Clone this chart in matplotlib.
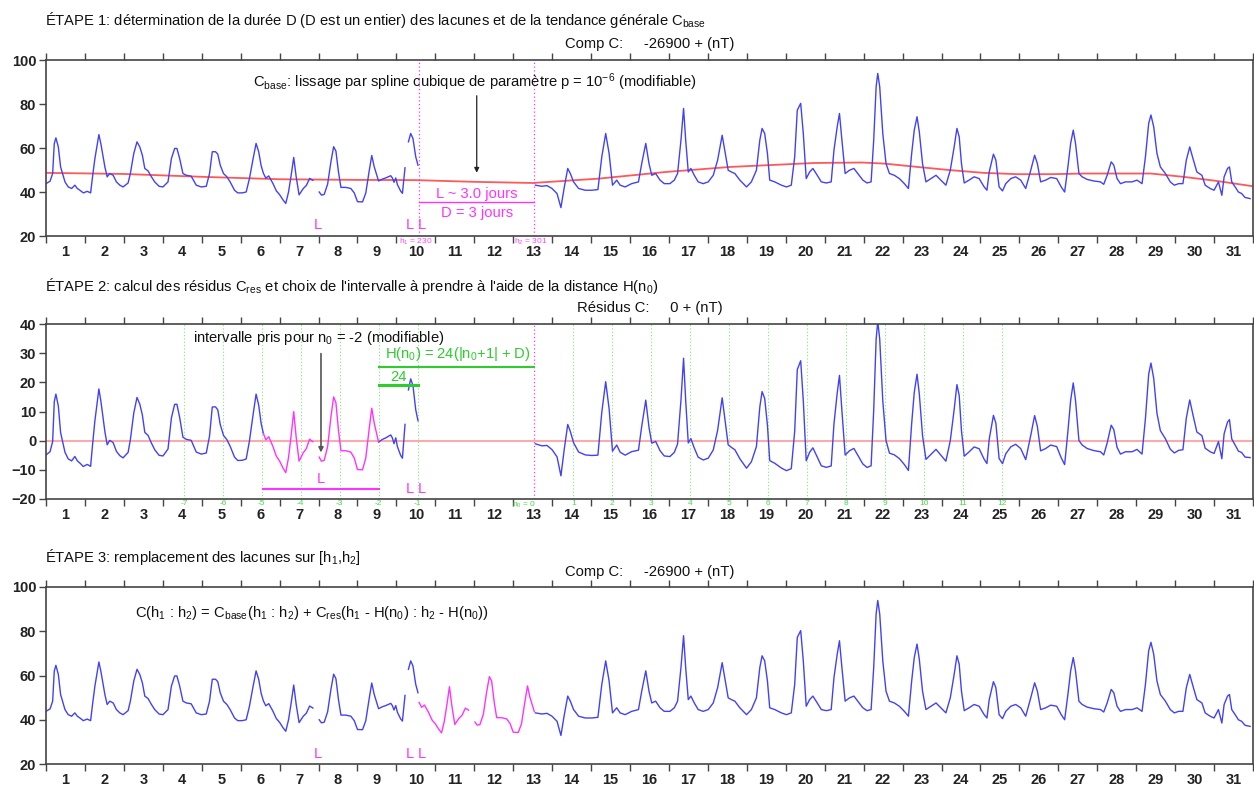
import numpy as np
import matplotlib
matplotlib.use("Agg")
import matplotlib.pyplot as plt

plt.rcParams['font.family'] = ['Liberation Sans', 'DejaVu Sans']
plt.rcParams['mathtext.fontset'] = 'custom'
plt.rcParams['mathtext.rm'] = 'Liberation Sans'
plt.rcParams['mathtext.it'] = 'Liberation Sans'
plt.rcParams['mathtext.bf'] = 'Liberation Sans:bold'
plt.rcParams['mathtext.default'] = 'regular'

# ---------------- data ----------------
days = list(range(1, 32))

# hourly component C (nT, offset -26900), read at knot hours; None = gap (lacune)
hours = [0, 2.5, 4.1, 5.1, 6.1, 7.6, 9, 11.7, 13.7, 15.8, 17.8, 19.3, 20.9, 23,
         25.4, 27.5, 28.7, 30.1, 32.6, 33.8, 36.3, 37.7, 39.3, 41.4, 43.4, 45.5, 47.5,
         50.6, 52, 54.1, 56.1, 57.8, 59.4, 60.9, 62.9, 65, 67, 69.7,
         72.1, 75.2, 77.3, 79.3, 80.7, 82.4, 84.4, 86.5, 89.5, 92.6, 95.7,
         98.8, 100.8, 102.5, 104.5, 105.9, 107.4, 109.4, 111.5, 113.5, 116.2, 118.2,
         121, 123.4, 125.4, 127.5, 129.5, 131.1, 132.6, 134, 135.5, 137.3, 139.8, 142, 144,
         146, 147.8, 149.5, 151, 152.7, 154.2, 156, 158.5, 160.5, 162.5, 164.5, 166.5,
         168.4, 169.8, 171.5, 173.6, 175.6, 177.3, 178.7, 180.3, 181.8, 184.8, 187.9, 190, 192,
         195.1, 197.1, 199.2, 200.8, 202.3, 205, 207.4, 209.4, 212.5, 213.5, 214.5, 215.6,
         216.6, 218.6, 219.7, 221.3, 222.3, 223.4, 224.8, 226.2, 227.9, 229.3, 265,
         301.7, 305.7, 308.8, 311.9, 315, 317.4, 319.5, 321.6, 323.2, 325.2, 328.3, 332.4,
         336.5, 340.2, 342.6, 345, 347.1, 349.2, 351.8, 353.9, 357, 361, 365.2, 367.2, 369.7,
         371.7, 373.4, 375.8, 378.5, 381.1, 384.6, 387.3, 389.3, 391.4, 393, 394.3, 395.9,
         397.5, 399.6, 402, 405.1, 408.2, 411.3, 414, 416.8, 418.4, 420.5, 422.5, 424.6,
         427.7, 431.8, 434.8, 437.9, 440, 441.4, 443, 444.7, 446.1, 449.2, 453.3, 456.4,
         459.4, 461.5, 463.1, 465.2, 466.8, 468.6, 470.7, 472.7, 475.4,
         477.9, 481, 484, 485.7, 487.7, 489.1, 490.6, 492.6, 495.3, 498, 500.4, 503.5, 506.1,
         508.6, 510.2, 511.7, 512.7, 513.9, 515.8, 517.8, 519.9, 522.9, 526, 529.1, 531.6,
         533.6, 535.2, 536.9, 538.3, 540.3, 542.4, 545.5, 548.6, 551.6, 554.7, 557.4, 559.8,
         561.5, 562.9, 564.3, 566, 569, 572.1, 575.2, 578.3, 580, 581.4, 584, 585.5, 587.5,
         589.6, 591.6, 594.7, 597.7, 600.8, 603.9, 607, 609.4, 611.1, 613.1, 616.2, 619.3,
         623, 625.8, 627.9, 629.9, 631.6, 633.2, 634.6, 636.7, 638.7, 641.8, 645.9, 650, 652,
         654.1, 656.6, 658.2, 660.2, 662.3, 665.4, 669.5, 672.5, 675.6, 677.7, 679.7, 681.1,
         682.8, 684.8, 686.9, 690, 693, 695.5, 698.2, 700.8, 702.9, 705, 707, 709.4, 712.5,
         714.5, 717.6, 720, 722.7, 724.8, 726.2, 728.3, 729.5, 730.9, 733, 735, 737, 739.1, 742.2]
comp = [43.8, 44.9, 48.4, 62, 64.6, 60.5, 51.4, 44.6, 42.3, 41.6, 43.1, 41.6, 40.8, 39.6,
        40.3, 39.6, 47, 55, 66.1, 62, 51.4, 46.9, 48.4, 47.6, 44.6, 43.1, 42.3,
        44.1, 48.4, 57.5, 62.8, 60.5, 56.7, 50.7, 49.6, 46.9, 44.6, 42.6,
        42.3, 44.6, 55.2, 59.8, 59.8, 55.2, 48.4, 47.6, 47.2, 43.1, 42.3,
        42.6, 48.4, 58.3, 58.3, 57.2, 52.2, 48.4, 46.9, 44.6, 40.8, 39.6,
        39.6, 40, 46.1, 54.5, 62.1, 58.3, 52, 48.5, 46.3, 47.3, 44, 40.5, 38.8,
        36.5, 34.8, 40, 47, 55.7, 47, 38.7, 41.5, 43, 46.2, 45.3, None,
        40, 38.6, 38.9, 43.6, 53.6, 60.6, 58.6, 49, 42.1, 42.1, 41.6, 39.6, 35.6,
        35.5, 39.5, 49.5, 56.6, 51.5, 45, 45.9, 46.4, 47.4, 46.4, 44.4, 46.4,
        43.4, 40.4, 39.4, 51, None, 62.8, 66.6, 64.3, 56, 52.2, None,
        43.1, 42.6, 42.9, 41.6, 39.3, 32.9, 42.3, 50.7, 48.4, 44.6, 41.6, 40.8,
        40.8, 41.1, 56, 66.6, 57.5, 43.1, 45.4, 43.1, 42.3, 43.8, 44.6, 52.9, 62.1,
        52.9, 47.6, 48.4, 45.4, 43.8, 43.8, 45.4, 48.4, 63.6, 78, 63.6, 49.1,
        50.7, 47.6, 44.6, 43.8, 44.6, 47.6, 54.5, 65.8, 59, 49.9, 49.1, 48.4,
        45.4, 42.3, 44.6, 49.9, 63.6, 68.9, 66.6, 57.5, 45.4, 44.6, 43.1, 42.3,
        43.1, 56, 77.2, 80.3, 66.6, 46.1, 49.1, 50.7, 47.6,
        44.6, 44.1, 44.6, 59, 69.6, 75.7, 63.6, 48.4, 49.9, 50.7, 48.4, 45.4, 44.1,
        44.6, 63.6, 87.9, 93.9, 87.9, 66.6, 52.9, 48.4, 47.6, 46.1, 43.8, 41.6,
        57.5, 68.1, 74.2, 67.4, 52.9, 44.6, 46.1, 47.6, 45.4, 43.1, 49.9, 60.5,
        68.9, 65.1, 52.9, 44.1, 45.4, 46.9, 46.1, 42.3, 40.8, 49.1, 57.2, 54.5, 42.3,
        40.5, 43.8, 46.1, 46.9, 45.4, 41.6, 49.9, 56.7, 52.9, 44.6, 45.4, 46.6,
        46.1, 42.3, 40, 51.4, 62.1, 68.1, 62.1, 48.4, 46.9, 45.7, 45.0, 44.6, 43.5,
        47.6, 53.7, 52.2, 46.1, 43.8, 44.6, 44.6, 45.4, 43.8, 56, 71.2, 75,
        69.6, 57.5, 51.4, 48.4, 44.6, 43.1, 43.8, 43.8, 54.5, 60.5, 55.2, 49.1, 47.6,
        43.1, 41.6, 40.8, 44.6, 38.5, 46.9, 50.7, 51.4, 44.6, 42.3, 40, 39.3, 37.5, 37]

# smooth trend C_base (cubic smoothing spline), read at knot hours
base_h = [0, 48, 96, 144, 192, 228, 265, 300, 341, 382, 422, 474, 503, 517, 537,
          558, 578, 599, 620, 640, 681, 701, 722, 744]
base_v = [48.7, 48.2, 46.9, 45.8, 45.5, 45.4, 44.6, 44.1, 46.1, 49.1, 51.4, 53.2, 53.4,
          52.9, 51.4, 49.9, 48.7, 48.1, 48.1, 48.4, 48.4, 46.9, 45.0, 42.6]

H1, H2 = 230, 301          # gap limits (hours)
D = 3                      # gap length (days)
N0 = -2                    # chosen interval
neg_n = [-7, -6, -5, -4, -3, -2, -1]
pos_n = list(range(0, 13))

# ---------------- derived ----------------
h = np.array(hours, dtype=float)
c = np.array(comp, dtype=float)
res = c - np.interp(h, base_h, base_v)
HN0 = 24 * (abs(N0 + 1) + D)
src_a, src_b = H1 - HN0, H2 - HN0
sel = (h >= src_a) & (h <= src_b)
res_blue = np.where((h > src_a) & (h < src_b), np.nan, res)
hm = h[sel] + HN0
vm = res[sel] + np.interp(hm, base_h, base_v)

BLUE = '#4242f5'
RED = '#ff3b3b'
MAG = '#ff33ff'
GREEN = '#2ecc2e'
LGREEN = '#7fe87f'
FS = 10.6

W, HH = 1254, 787
fig = plt.figure(figsize=(12.54, 7.87), dpi=100)


def fx(x):
    return x / W


def fy(y):
    return 1 - y / HH


def make_ax(ytop, ybot, ylim, yticks):
    ax = fig.add_axes([fx(46), fy(ybot), (1253 - 46) / W, (ybot - ytop) / HH])
    ax.set_xlim(0, 744)
    ax.set_ylim(*ylim)
    ax.set_xticks(np.arange(0, 745, 24))
    ax.set_xticks(np.arange(12, 744, 24), minor=True)
    ax.set_xticklabels([str(d) for d in days], minor=True)
    ax.tick_params(axis='x', which='major', top=True, bottom=True, direction='out',
                   length=5, width=1, color='#444444', labelbottom=False)
    ax.tick_params(axis='x', which='minor', length=0, pad=6.5, labelsize=10.5)
    ax.set_yticks(yticks)
    ax.tick_params(axis='y', direction='out', length=5, width=1, color='#444444',
                   labelsize=10.5, pad=2)
    for lbl in ax.get_xticklabels(minor=True) + ax.get_yticklabels():
        lbl.set_fontweight('bold')
        lbl.set_color('#222222')
    for s in ax.spines.values():
        s.set_color('#444444')
        s.set_linewidth(1.2)
    return ax


# ---------------- panel 1 ----------------
ax1 = make_ax(60, 236, (20, 100), [20, 40, 60, 80, 100])
ax1.plot(base_h, base_v, color=RED, lw=1.3, alpha=0.85)
ax1.plot(h, c, color=BLUE, lw=1.0)
for xv in (H1, H2):
    ax1.axvline(xv, color=MAG, lw=0.9, ls=(0, (1, 2)))
ax1.text(127.5, 90, r"C$_{base}$: lissage par spline cubique de paramètre p = 10$^{-6}$ (modifiable)",
         fontsize=FS, va='center', ha='left', color='#111111')
ax1.annotate('', xy=(265.5, 47.5), xytext=(265.5, 85),
             arrowprops=dict(arrowstyle='-|>', color='#222222', lw=0.9, mutation_scale=7))
ax1.text((H1 + H2) / 2, 39.3, "L ~ 3.0 jours", color=MAG, fontsize=FS, ha='center', va='center')
ax1.plot([H1, H2], [35.5, 35.5], color=MAG, lw=1.0)
ax1.text((H1 + H2) / 2, 30.5, "D = 3 jours", color=MAG, fontsize=FS, ha='center', va='center')
for xl in (167.5, 224.3, 231.8):
    ax1.text(xl, 25, "L", color=MAG, fontsize=10.5, ha='center', va='center')
ax1.text(H1 - 2, -0.006, r"h$_1$ = 230", color=MAG, fontsize=6, ha='center', va='top',
         transform=ax1.get_xaxis_transform(), alpha=0.9)
ax1.text(H2 - 2, -0.006, r"h$_2$ = 301", color=MAG, fontsize=6, ha='center', va='top',
         transform=ax1.get_xaxis_transform(), alpha=0.9)

# ---------------- panel 2 ----------------
ax2 = make_ax(324, 499, (-20, 40), [-20, -10, 0, 10, 20, 30, 40])
ax2.axhline(0, color='#ff9a9a', lw=1.2)
trans2 = ax2.get_xaxis_transform()
for n in neg_n:
    xv = H2 - 24 * (abs(n + 1) + D)
    ax2.axvline(xv, color=LGREEN, lw=0.8, ls=(0, (1, 2)))
    ax2.text(xv, -0.005, str(n), color='#44dd44', fontsize=6, ha='center', va='top',
             transform=trans2)
for n in pos_n:
    xv = H2 + 24 * n
    if n == 0:
        ax2.axvline(xv, color=MAG, lw=0.9, ls=(0, (1, 2)))
        ax2.text(xv + 1, -0.005, r"n$_0$ = 0", color='#44dd44', fontsize=6, ha='right',
                 va='top', transform=trans2)
    else:
        ax2.axvline(xv, color=LGREEN, lw=0.8, ls=(0, (1, 2)))
        ax2.text(xv, -0.005, str(n), color='#44dd44', fontsize=6, ha='center', va='top',
                 transform=trans2)
ax2.plot(h, res_blue, color=BLUE, lw=1.0)
ax2.plot(h[sel], res[sel], color=MAG, lw=1.0)
ax2.text(90.5, 35.2, r"intervalle pris pour n$_0$ = -2 (modifiable)", fontsize=FS,
         ha='left', va='center', color='#111111')
ax2.annotate('', xy=(169.5, -5), xytext=(169.5, 30.8),
             arrowprops=dict(arrowstyle='-|>', color='#555555', lw=1.2, mutation_scale=7))
ax2.text(209, 29.6, r"H(n$_0$) = 24(|n$_0$+1| + D)", color=GREEN, fontsize=FS,
         ha='left', va='center')
ax2.plot([src_b, H2], [25.3, 25.3], color=GREEN, lw=1.5)
ax2.text(217, 21.8, "24", color=GREEN, fontsize=FS, ha='center', va='center')
ax2.plot([src_b, H1 - 1], [19.1, 19.1], color=GREEN, lw=2.2)
ax2.plot([src_a, src_b], [-16.5, -16.5], color=MAG, lw=1.5)
ax2.text((src_a + src_b) / 2, -13.3, "L", color=MAG, fontsize=10.5, ha='center', va='center')
for xl in (224.3, 231.8):
    ax2.text(xl, -16.5, "L", color=MAG, fontsize=10.5, ha='center', va='center')

# ---------------- panel 3 ----------------
ax3 = make_ax(587, 764, (20, 100), [20, 40, 60, 80, 100])
ax3.plot(h, c, color=BLUE, lw=1.0)
ax3.plot(hm, vm, color=MAG, lw=1.0)
ax3.text(55, 88.2,
         r"C(h$_1$ : h$_2$) = C$_{base}$(h$_1$ : h$_2$) + C$_{res}$(h$_1$ - H(n$_0$) : h$_2$ - H(n$_0$))",
         fontsize=FS, ha='left', va='center', color='#111111')
for xl in (167.5, 224.3, 231.8):
    ax3.text(xl, 24.6, "L", color=MAG, fontsize=10.5, ha='center', va='center')

# ---------------- titles ----------------
tkw = dict(fontsize=FS, color='#111111', ha='left', va='baseline')
fig.text(fx(45), fy(25), r"ÉTAPE 1: détermination de la durée D (D est un entier) des lacunes et de la tendance générale C$_{base}$", **tkw)
fig.text(fx(565), fy(48), "Comp C:     -26900 + (nT)", **tkw)
fig.text(fx(45), fy(291), r"ÉTAPE 2: calcul des résidus C$_{res}$ et choix de l'intervalle à prendre à l'aide de la distance H(n$_0$)", **tkw)
fig.text(fx(577), fy(312), "Résidus C:     0 + (nT)", **tkw)
fig.text(fx(45), fy(562), r"ÉTAPE 3: remplacement des lacunes sur [h$_1$,h$_2$]", **tkw)
fig.text(fx(565), fy(576), "Comp C:     -26900 + (nT)", **tkw)

fig.savefig("out.png", dpi=100, facecolor='white')
